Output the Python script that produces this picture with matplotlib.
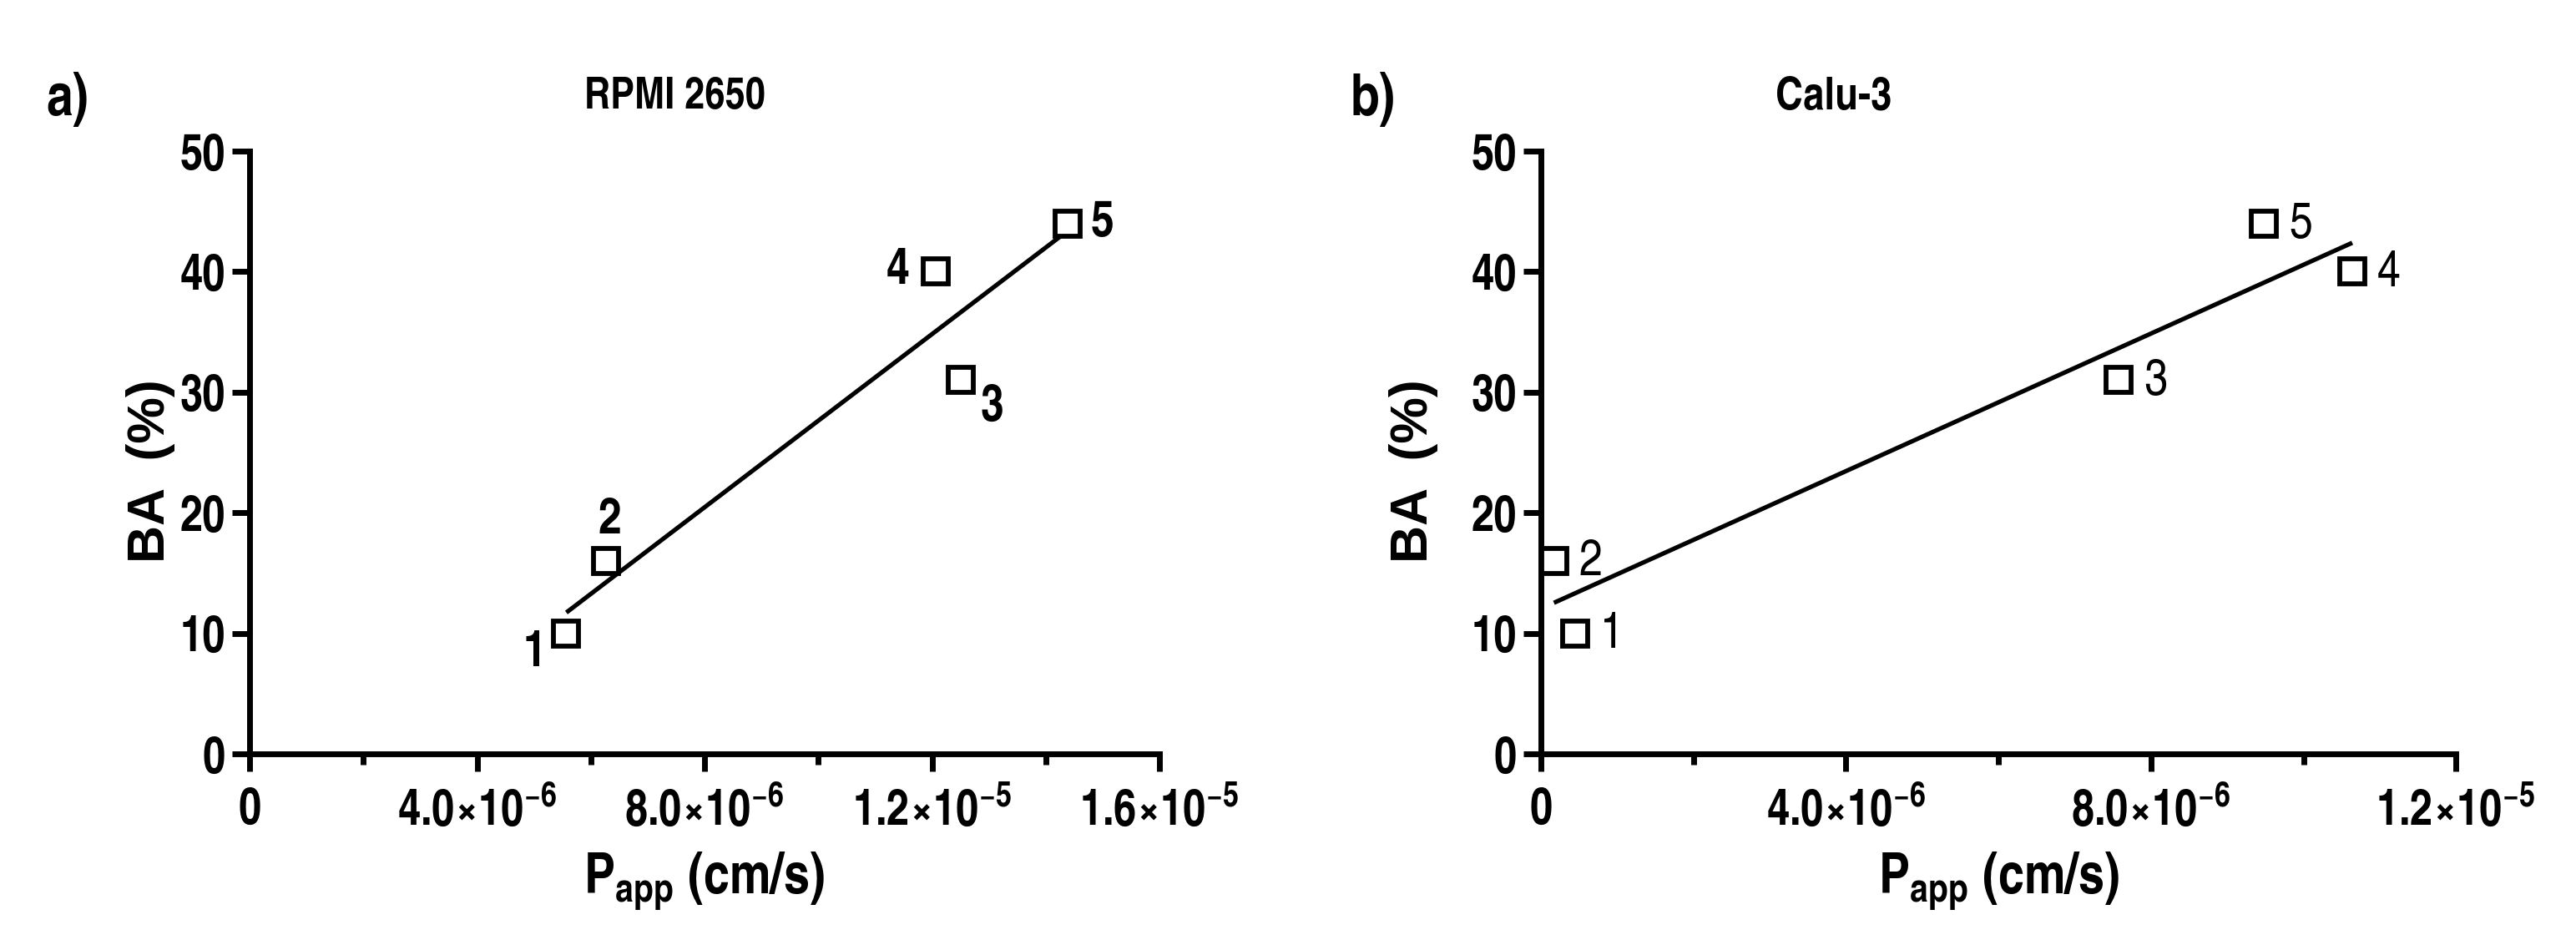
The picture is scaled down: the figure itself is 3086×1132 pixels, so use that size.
import numpy as np
import matplotlib
matplotlib.use('Agg')
import matplotlib.pyplot as plt

COND = 'TeX Gyre Heros Cn'
plt.rcParams['font.family'] = [COND, 'Liberation Sans', 'DejaVu Sans']
plt.rcParams['font.weight'] = 'bold'
plt.rcParams['mathtext.fontset'] = 'custom'
plt.rcParams['mathtext.rm'] = COND + ':bold'
plt.rcParams['mathtext.bf'] = COND + ':bold'
plt.rcParams['mathtext.it'] = COND + ':bold'
plt.rcParams['mathtext.default'] = 'bf'

# data
ids = ['1', '2', '3', '4', '5']
ba = [10, 16, 31, 40, 44]
papp_rpmi = [5.57e-6, 6.27e-6, 1.25e-5, 1.207e-5, 1.438e-5]
papp_calu = [4.5e-7, 1.7e-7, 7.58e-6, 1.064e-5, 9.48e-6]

yticks = [0, 10, 20, 30, 40, 50]
xticks_rpmi = [0, 4e-6, 8e-6, 1.2e-5, 1.6e-5]
xlabels_rpmi = ['0', r'4.0{\times}10^{-6}', r'8.0{\times}10^{-6}', r'1.2{\times}10^{-5}', r'1.6{\times}10^{-5}']
xticks_calu = [0, 4e-6, 8e-6, 1.2e-5]
xlabels_calu = ['0', r'4.0{\times}10^{-6}', r'8.0{\times}10^{-6}', r'1.2{\times}10^{-5}']

fig = plt.figure(figsize=(30.86, 11.32), dpi=100)
ax1 = fig.add_axes([0.0969, 0.2023, 0.3532, 0.6378])
ax2 = fig.add_axes([0.5982, 0.2023, 0.3552, 0.6378])


def draw(ax, x, xt, xl, xmax, bold_labels, offsets, ylab_x):
    x = np.array(x)
    y = np.array(ba)
    k, b = np.polyfit(x, y, 1)
    xs = np.array([x.min(), x.max()])
    ax.plot(xs, k * xs + b, color='black', lw=3.8, zorder=2, solid_capstyle='butt')
    ax.plot(x, y, ls='none', marker='s', ms=22, mfc='white', mec='black', mew=4.2, zorder=3)
    for xi, yi, t, off in zip(x, y, ids, offsets):
        ax.annotate(t, (xi, yi), xytext=off, textcoords='offset pixels',
                    ha='center', va='center', fontsize=44,
                    fontweight='bold' if bold_labels else 'normal')
    ax.set_xlim(0, xmax)
    ax.set_ylim(0, 50)
    ax.set_xticks(xt)
    ax.set_xticklabels(['$' + s + '$' if s != '0' else '0' for s in xl])
    ax.set_xticks(np.arange(2e-6, xmax, 4e-6), minor=True)
    ax.set_yticks(yticks)
    for s in ['top', 'right']:
        ax.spines[s].set_visible(False)
    for s in ['left', 'bottom']:
        ax.spines[s].set_linewidth(5)
        ax.spines[s].set_capstyle('projecting')
    ax.tick_params(which='major', length=15, width=5, labelsize=43, pad=6)
    ax.tick_params(which='minor', length=9, width=5)
    ax.tick_params(axis='x', which='major', pad=14)
    ax.set_ylabel('BA  (%)', fontsize=45, fontweight='bold',
                  family=['Liberation Sans', 'DejaVu Sans'])
    ax.yaxis.set_label_coords(ylab_x, 0.47)
    ax.set_xlabel(r'P$_{\mathbf{app}}$ (cm/s)', fontsize=49, fontweight='bold', labelpad=12)


draw(ax1, papp_rpmi, xticks_rpmi, xlabels_rpmi, 1.6e-5, True,
     [(-38, -24), (4, 48), (38, -32), (-46, 0), (42, 0)], -0.082)
draw(ax2, papp_calu, xticks_calu, xlabels_calu, 1.2e-5, False,
     [(44, -2), (44, -2), (44, -2), (44, -2), (44, -2)], -0.112)

fig.text(0.262, 0.897, 'RPMI 2650', fontsize=38, fontweight='bold', ha='center', va='center')
fig.text(0.712, 0.897, 'Calu-3', fontsize=40, fontweight='bold', ha='center', va='center')
fig.text(0.026, 0.895, 'a)', fontsize=50, fontweight='bold', ha='center', va='center')
fig.text(0.533, 0.895, 'b)', fontsize=50, fontweight='bold', ha='center', va='center')

fig.savefig('out.png', dpi=100, facecolor='white')
